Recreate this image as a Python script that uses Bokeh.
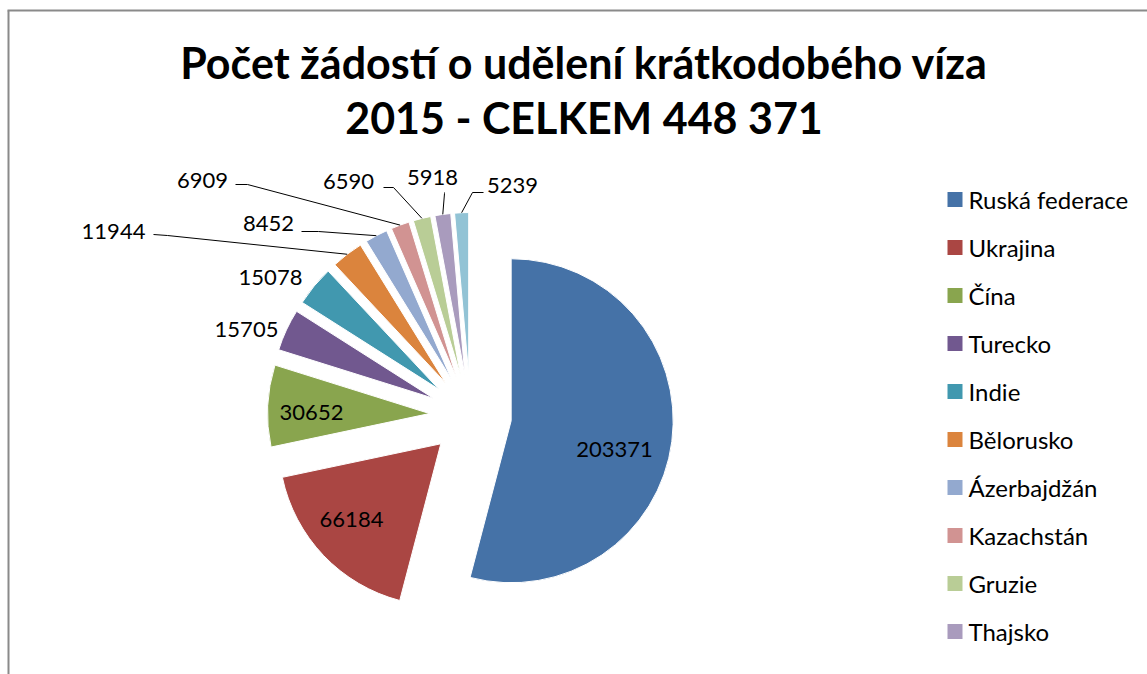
import math
from bokeh.plotting import figure
from bokeh.models import ColumnDataSource, Range1d
from bokeh.core.properties import value
from bokeh.embed import file_html
from bokeh.resources import INLINE

# ---------------- data ----------------
categories = ["Ruská federace", "Ukrajina", "Čína", "Turecko", "Indie", "Bělorusko",
              "Ázerbajdžán", "Kazachstán", "Gruzie", "Thajsko", "Saúdská Arábie"]
counts = [203371, 66184, 30652, 15705, 15078, 11944, 8452, 6909, 6590, 5918, 5239]
title_lines = ["Počet žádostí o udělení krátkodobého víza", "2015 - CELKEM 448 371"]

# ---------------- style / layout ----------------
colors = ["#4572A7", "#AA4643", "#89A54E", "#71588F", "#4198AF", "#DB843D",
          "#93A9CF", "#D19392", "#B9CD96", "#A99BBD", "#92C3D5"]
W, H = 1147, 674
FONT = "Lato"


def X(px):
    return px


def Y(py):
    return H - py


CX, CY = X(470), Y(415)   # pie centre
R = 162                   # radius (px)
EXPL = 41                 # explosion distance (px)

# label anchor positions (page px), and leader geometry (label-side start, elbow)
label_pos = [(614, 449), (351, 519), (311, 412), (246, 329), (270, 277), (113, 231),
             (268, 223), (202, 180), (348, 181), (432, 177), (512, 185)]
leaders = {5: [(153, 234), (167, 235)],
           6: [(301, 231), (318, 231)],
           7: [(235, 184), (247, 184)],
           8: [(383, 187), (393, 187)],
           9: [(444, 192), (444, 193)],
           10: [(483, 192), (472, 192)]}

total = float(sum(counts))
cum = [0.0]
for v in counts:
    cum.append(cum[-1] + v)
theta1 = [c / total * 2 * math.pi for c in cum[:-1]]   # clockwise from top
theta2 = [c / total * 2 * math.pi for c in cum[1:]]
mid = [(a + b) / 2 for a, b in zip(theta1, theta2)]

wx = [CX + EXPL * math.sin(m) for m in mid]
wy = [CY + EXPL * math.cos(m) for m in mid]
src = ColumnDataSource(dict(
    x=wx, y=wy,
    start=[math.pi / 2 - b for b in theta2],
    end=[math.pi / 2 - a for a in theta1],
    color=colors, name=categories, count=counts))

p = figure(width=W, height=H, output_backend="svg", toolbar_location=None,
           x_range=Range1d(0, W), y_range=Range1d(0, H), min_border=0)
p.xaxis.visible = False
p.yaxis.visible = False
p.grid.visible = False
p.outline_line_color = None
p.background_fill_color = "white"
p.border_fill_color = "white"

# frame border (left & top visible)
p.line([X(8), X(8)], [Y(10), 0], line_color="#8a8a8a", line_width=2)
p.line([X(7), W], [Y(10), Y(10)], line_color="#8a8a8a", line_width=2)

p.wedge(x="x", y="y", radius=R, start_angle="start", end_angle="end",
        direction="anticlock", fill_color="color", line_color="white",
        line_width=1, source=src)

# leader lines
xs, ys = [], []
for i, pts in leaders.items():
    ex = wx[i] + R * math.sin(mid[i])
    ey = wy[i] + R * math.cos(mid[i])
    xs.append([X(pts[0][0]), X(pts[1][0]), ex])
    ys.append([Y(pts[0][1]), Y(pts[1][1]), ey])
p.multi_line(xs, ys, line_color="black", line_width=1)

# data labels
p.text(x=[X(a) for a, b in label_pos], y=[Y(b) for a, b in label_pos],
       text=[str(v) for v in counts], text_font=value(FONT), text_font_size="22px",
       text_align="center", text_baseline="middle", text_color="black")

# title
p.text(x=[X(583.5), X(583.5)], y=[Y(62), Y(117)], text=title_lines,
       text_font=value(FONT), text_font_style="bold", text_font_size="43px",
       text_align="center", text_baseline="middle", text_color="black")

# legend (entries that fit inside the chart area)
n_vis = 10
ly = [Y(199 + 48 * i) for i in range(n_vis)]
p.rect(x=[X(954.5)] * n_vis, y=ly, width=15, height=15,
       fill_color=colors[:n_vis], line_color=None)
p.text(x=[X(968)] * n_vis, y=ly, text=categories[:n_vis], text_font=value(FONT),
       text_font_size="24px", text_align="left", text_baseline="middle",
       text_color="black")

open("out.html", "w").write(file_html(p, INLINE))
